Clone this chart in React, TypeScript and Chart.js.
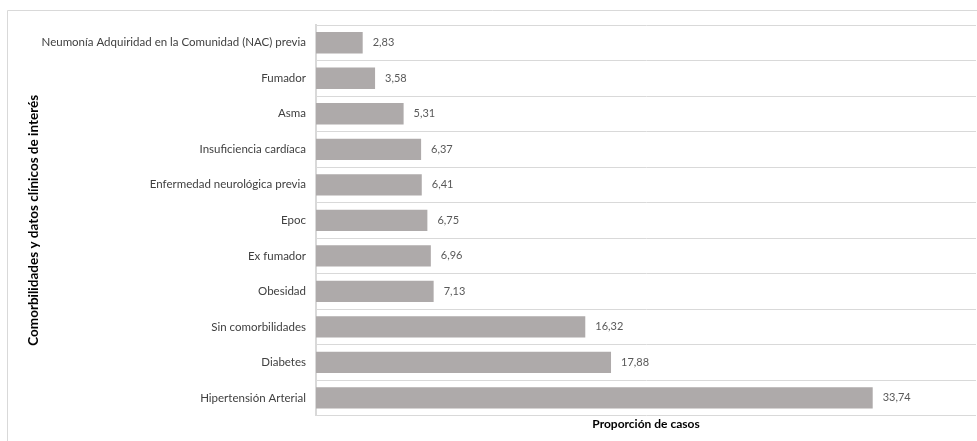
import React, { useEffect, useRef } from "react";
import { Chart, registerables } from "chart.js";

Chart.register(...registerables);

const categories = [
  "Neumonía Adquiridad en la Comunidad (NAC) previa",
  "Fumador",
  "Asma",
  "Insuficiencia cardíaca",
  "Enfermedad neurológica previa",
  "Epoc",
  "Ex fumador",
  "Obesidad",
  "Sin comorbilidades",
  "Diabetes",
  "Hipertensión Arterial",
];
const values = [2.83, 3.58, 5.31, 6.37, 6.41, 6.75, 6.96, 7.13, 16.32, 17.88, 33.74];
const xTitle = "Proporción de casos";
const yTitle = "Comorbilidades y datos clínicos de interés";

const FONT = "Lato, 'Open Sans', sans-serif";

const framePlugin = {
  id: "frame",
  beforeDraw(chart: any) {
    const ctx = chart.ctx;
    ctx.save();
    ctx.strokeStyle = "#d9d9d9";
    ctx.lineWidth = 1;
    ctx.beginPath();
    ctx.moveTo(7.5, chart.height);
    ctx.lineTo(7.5, 10.5);
    ctx.lineTo(chart.width, 10.5);
    ctx.stroke();
    ctx.restore();
  },
};

const labelPlugin = {
  id: "valueLabels",
  afterDatasetsDraw(chart: any) {
    const ctx = chart.ctx;
    const meta = chart.getDatasetMeta(0);
    ctx.save();
    ctx.font = `11px ${FONT}`;
    ctx.fillStyle = "#595959";
    ctx.textAlign = "left";
    ctx.textBaseline = "middle";
    meta.data.forEach((bar: any, i: number) => {
      const v = chart.data.datasets[0].data[i] as number;
      ctx.fillText(v.toFixed(2).replace(".", ","), bar.x + 10, bar.y);
    });
    ctx.restore();
  },
};

export default function App() {
  const ref = useRef<HTMLCanvasElement>(null);
  useEffect(() => {
    if (!ref.current) return;
    const chart = new Chart(ref.current, {
      type: "bar",
      data: {
        labels: categories,
        datasets: [
          {
            data: values,
            backgroundColor: "#aeaaaa",
            borderWidth: 0,
            categoryPercentage: 1,
            barPercentage: 0.6,
          },
        ],
      },
      options: {
        indexAxis: "y",
        responsive: false,
        animation: false,
        layout: { padding: { left: 26, top: 25, right: 1, bottom: 10 } },
        plugins: { legend: { display: false }, tooltip: { enabled: false } },
        scales: {
          x: {
            min: 0,
            max: 40,
            ticks: { display: false },
            grid: { display: false, drawTicks: false },
            border: { display: false },
            title: {
              display: true,
              text: xTitle,
              color: "#000",
              font: { family: FONT, size: 12, weight: "bold" },
              padding: { top: 1, bottom: 0 },
            },
          },
          y: {
            afterFit(scale: any) {
              scale.width = 290;
            },
            ticks: {
              color: "#404040",
              padding: 10,
              font: { family: FONT, size: 11.5 },
            },
            grid: { color: "#d9d9d9", lineWidth: 1, drawTicks: false, offset: true },
            border: { display: true, color: "#d9d9d9", width: 2 },
            title: {
              display: true,
              text: yTitle,
              color: "#000",
              font: { family: FONT, size: 13.5, weight: "bold" },
              padding: { top: 0, bottom: 0 },
            },
          },
        },
      },
      plugins: [framePlugin, labelPlugin],
    });
    return () => chart.destroy();
  }, []);
  return (
    <div style={{ position: "fixed", left: 0, top: 0, width: 977, height: 441, background: "#fff" }}>
      <canvas ref={ref} width={977} height={441} style={{ display: "block" }} />
    </div>
  );
}
